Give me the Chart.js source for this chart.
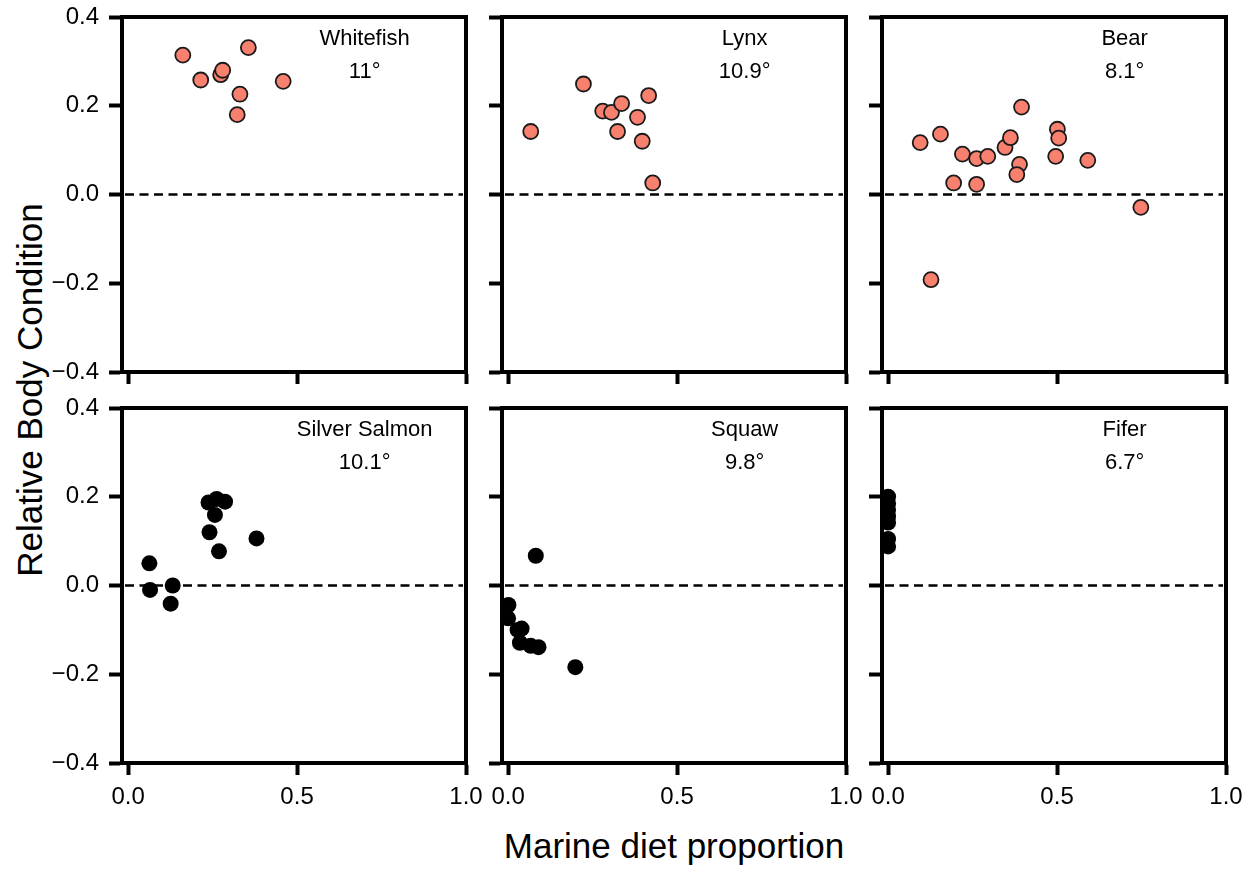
<!DOCTYPE html>
<html>
<head>
<meta charset="utf-8">
<script src="https://cdn.jsdelivr.net/npm/chart.js@4"></script>
<style>
  body { margin: 0; background: #fff; }
  #wrap { position: relative; width: 1257px; height: 873px; font-family: "Liberation Sans", Arial, sans-serif; }
  #wrap canvas { position: absolute; }
  .title { position: absolute; color: #000; white-space: nowrap; font-size: 35px; }
  #xtitle { left: 674px; top: 846px; transform: translate(-50%, -50%); }
  #ytitle { left: 30px; top: 390px; transform: translate(-50%, -50%) rotate(-90deg); }
</style>
</head>
<body>
<div id="wrap">
  <div class="title" id="xtitle">Marine diet proportion</div>
  <div class="title" id="ytitle">Relative Body Condition</div>
</div>
<script>
// axis ticks shared by all six panels
const xTicks = [0, 0.5, 1];
const yTicks = [-0.4, -0.2, 0, 0.2, 0.4];

const lakes = ['Whitefish', 'Lynx', 'Bear', 'Silver Salmon', 'Squaw', 'Fifer'];
const temps = ['11°', '10.9°', '8.1°', '10.1°', '9.8°', '6.7°'];

// marine diet proportion (x) and relative body condition (y) per lake
const whitefishX = [0.162, 0.356, 0.215, 0.274, 0.280, 0.459, 0.331, 0.323];
const whitefishY = [0.314, 0.331, 0.258, 0.270, 0.280, 0.255, 0.226, 0.180];

const lynxX = [0.067, 0.223, 0.280, 0.306, 0.336, 0.324, 0.383, 0.416, 0.397, 0.428];
const lynxY = [0.142, 0.249, 0.188, 0.185, 0.205, 0.142, 0.174, 0.223, 0.120, 0.026];

const bearX = [0.095, 0.155, 0.220, 0.262, 0.295, 0.194, 0.262, 0.346, 0.362, 0.395,
               0.389, 0.381, 0.501, 0.505, 0.496, 0.591, 0.748, 0.127];
const bearY = [0.117, 0.136, 0.091, 0.081, 0.086, 0.026, 0.023, 0.106, 0.128, 0.197,
               0.068, 0.045, 0.147, 0.127, 0.086, 0.077, -0.029, -0.192];

const salmonX = [0.063, 0.065, 0.132, 0.126, 0.238, 0.262, 0.287, 0.257, 0.241, 0.269, 0.380];
const salmonY = [0.050, -0.010, 0.000, -0.041, 0.187, 0.195, 0.189, 0.159, 0.120, 0.077, 0.106];

const squawX = [0.082, 0.001, 0.000, 0.028, 0.040, 0.035, 0.067, 0.090, 0.199];
const squawY = [0.067, -0.044, -0.074, -0.100, -0.097, -0.129, -0.136, -0.139, -0.184];

const fiferX = [0.0, 0.0, 0.0, 0.0, 0.0, 0.0, 0.0];
const fiferY = [0.200, 0.185, 0.170, 0.155, 0.142, 0.105, 0.088];

const seriesX = [whitefishX, lynxX, bearX, salmonX, squawX, fiferX];
const seriesY = [whitefishY, lynxY, bearY, salmonY, squawY, fiferY];

// panel grid (page pixels of each plot box)
const colLeft = [122, 502, 882];
const rowTop = [17, 408];
const boxW = 344, boxH = 355;
const padL = 90, padT = 15, padR = 30, padB = 62;
const LW = 4;
const font = '"Liberation Sans", Arial, sans-serif';

const fmt = v => (v < 0 ? '\u2212' : '') + Math.abs(v).toFixed(1);

// keep label overflow from shrinking the plot box
const noOverflow = s => {
  s.paddingLeft = 0; s.paddingRight = 0; s.paddingTop = 0; s.paddingBottom = 0;
};

const frame = {
  id: 'frame',
  beforeDatasetsDraw(chart) {
    const { ctx, chartArea: a, scales } = chart;
    const y0 = scales.y.getPixelForValue(0);
    ctx.save();
    ctx.strokeStyle = '#000';
    ctx.lineWidth = 2.5;
    ctx.setLineDash([9, 5.5]);
    ctx.beginPath();
    ctx.moveTo(a.left + 3, y0);
    ctx.lineTo(a.right - 3, y0);
    ctx.stroke();
    ctx.setLineDash([]);
    // top and right edges of the box
    ctx.lineWidth = LW;
    ctx.lineCap = 'square';
    ctx.beginPath();
    ctx.moveTo(a.left, a.top);
    ctx.lineTo(a.right, a.top);
    ctx.lineTo(a.right, a.bottom);
    ctx.stroke();
    ctx.restore();
  },
  afterDraw(chart, args, opts) {
    const { ctx, scales } = chart;
    const x = scales.x.getPixelForValue(0.7);
    ctx.save();
    ctx.fillStyle = '#000';
    ctx.font = '22px ' + font;
    ctx.textAlign = 'center';
    ctx.textBaseline = 'middle';
    ctx.fillText(opts.name, x, scales.y.getPixelForValue(0.35));
    ctx.fillText(opts.temp, x, scales.y.getPixelForValue(0.277));
    ctx.restore();
  }
};

const wrap = document.getElementById('wrap');

lakes.forEach((name, i) => {
  const row = Math.floor(i / 3), col = i % 3;
  const cv = document.createElement('canvas');
  cv.width = boxW + padL + padR;
  cv.height = boxH + padT + padB;
  cv.style.left = (colLeft[col] - padL) + 'px';
  cv.style.top = (rowTop[row] - padT) + 'px';
  wrap.appendChild(cv);

  const pts = seriesX[i].map((x, k) => ({ x: x, y: seriesY[i][k] }));
  const top = row === 0;

  new Chart(cv, {
    type: 'scatter',
    data: {
      datasets: [{
        data: pts,
        pointRadius: top ? 7.5 : 8,
        pointBorderWidth: top ? 1.8 : 0,
        pointBackgroundColor: top ? '#F8806F' : '#000',
        pointBorderColor: '#1a1a1a',
        clip: false
      }]
    },
    options: {
      responsive: false,
      animation: false,
      events: [],
      layout: { padding: { top: padT, right: padR, left: 0, bottom: 0 } },
      plugins: {
        legend: { display: false },
        tooltip: { enabled: false },
        frame: { name: name, temp: temps[i] }
      },
      scales: {
        x: {
          type: 'linear',
          min: -0.018,
          max: 1,
          afterBuildTicks: s => { s.ticks = xTicks.map(v => ({ value: v })); },
          afterFit: s => { s.height = padB; noOverflow(s); },
          border: { display: true, color: '#000', width: LW },
          grid: { drawOnChartArea: false, drawTicks: true, tickLength: 12, tickWidth: LW, tickColor: '#000' },
          ticks: {
            display: !top,
            padding: 8,
            color: '#000',
            font: { family: font, size: 24 },
            maxRotation: 0,
            callback: v => fmt(v)
          }
        },
        y: {
          type: 'linear',
          min: -0.4,
          max: 0.4,
          afterBuildTicks: s => { s.ticks = yTicks.map(v => ({ value: v })); },
          afterFit: s => { s.width = padL; noOverflow(s); },
          border: { display: true, color: '#000', width: LW },
          grid: { drawOnChartArea: false, drawTicks: true, tickLength: 13, tickWidth: LW, tickColor: '#000' },
          ticks: {
            display: col === 0,
            padding: 10,
            color: '#000',
            font: { family: font, size: 24 },
            callback: v => fmt(v)
          }
        }
      }
    },
    plugins: [frame]
  });
});
</script>
</body>
</html>
